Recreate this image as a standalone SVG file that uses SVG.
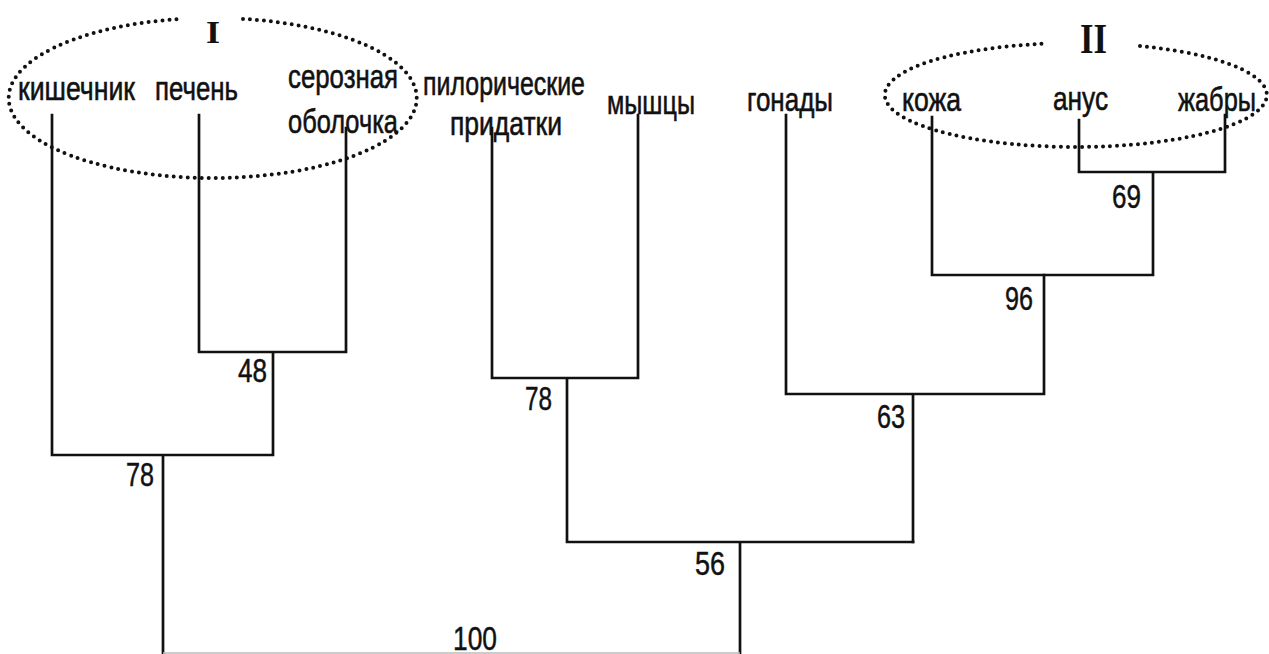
<svg xmlns="http://www.w3.org/2000/svg" width="1269" height="654" viewBox="0 0 1269 654">
<style>
.lbl{font-family:"Liberation Sans",Arial,sans-serif;font-size:34px;fill:#111;stroke:#111;stroke-width:0.6;}
.num{font-family:"Liberation Sans",Arial,sans-serif;font-size:34px;fill:#111;stroke:#111;stroke-width:0.5;}
.rom{font-family:"Liberation Serif","Times New Roman",serif;font-weight:bold;fill:#111;}
.ln{fill:none;stroke:#111;stroke-width:2.7;stroke-linecap:square;}
.dot{fill:none;stroke:#111;stroke-width:4;stroke-linecap:round;stroke-dasharray:0 7;}
</style>
<rect width="1269" height="654" fill="#fff"/>
<g id="connectors">
<path class="ln" d="M52 115V455M199 115V352M346 128V352M199 352H346M273 352V455M52 455H273M163 455V654"/>
<path class="ln" d="M492 128V378M638 115V378M492 378H638M567 378V542M567 542H913M740 542V654"/>
<path class="ln" d="M786 115V394M786 394H1044M913 394V542M1044 275V394"/>
<path class="ln" d="M932 117V275M932 275H1153M1153 172V275M1079 120V172M1225 115V172M1079 172H1225"/>
<path d="M163 653H740" stroke="#bbb" stroke-width="1.5" fill="none"/>
</g>
<g id="cluster-I">
<path class="dot" d="M243 18.9A204 80 0 1 1 180 19.05"/>
<text class="rom" x="206" y="43" font-size="32" textLength="14" lengthAdjust="spacingAndGlyphs">I</text>
</g>
<g id="cluster-II">
<path class="dot" d="M1140 46A191 52 0 1 1 1042 43.8"/>
<text class="rom" x="1080" y="53" font-size="42" textLength="27" lengthAdjust="spacingAndGlyphs">II</text>
</g>
<g id="leaf-kishechnik"><text class="lbl" x="18" y="100" textLength="117" lengthAdjust="spacingAndGlyphs">кишечник</text></g>
<g id="leaf-pechen"><text class="lbl" x="155" y="100" textLength="83" lengthAdjust="spacingAndGlyphs">печень</text></g>
<g id="leaf-seroznaya"><text class="lbl" x="288" y="88" textLength="110" lengthAdjust="spacingAndGlyphs">серозная</text><text class="lbl" x="288" y="133" textLength="110" lengthAdjust="spacingAndGlyphs">оболочка</text></g>
<g id="leaf-piloricheskie"><text class="lbl" x="423" y="95" textLength="162" lengthAdjust="spacingAndGlyphs">пилорические</text><text class="lbl" x="450" y="135" textLength="112" lengthAdjust="spacingAndGlyphs">придатки</text></g>
<g id="leaf-myshcy"><text class="lbl" x="607" y="114" textLength="88" lengthAdjust="spacingAndGlyphs">мышцы</text></g>
<g id="leaf-gonady"><text class="lbl" x="747" y="111" textLength="86" lengthAdjust="spacingAndGlyphs">гонады</text></g>
<g id="leaf-kozha"><text class="lbl" x="902" y="111" textLength="59" lengthAdjust="spacingAndGlyphs">кожа</text></g>
<g id="leaf-anus"><text class="lbl" x="1053" y="110" textLength="55" lengthAdjust="spacingAndGlyphs">анус</text></g>
<g id="leaf-zhabry"><text class="lbl" x="1178" y="111" textLength="78" lengthAdjust="spacingAndGlyphs">жабры</text></g>
<g id="node-48"><text class="num" x="238" y="382" textLength="29" lengthAdjust="spacingAndGlyphs">48</text></g>
<g id="node-78a"><text class="num" x="126" y="486" textLength="28" lengthAdjust="spacingAndGlyphs">78</text></g>
<g id="node-78b"><text class="num" x="525" y="410" textLength="27" lengthAdjust="spacingAndGlyphs">78</text></g>
<g id="node-63"><text class="num" x="877" y="428" textLength="28" lengthAdjust="spacingAndGlyphs">63</text></g>
<g id="node-56"><text class="num" x="695" y="575" textLength="30" lengthAdjust="spacingAndGlyphs">56</text></g>
<g id="node-69"><text class="num" x="1112" y="208" textLength="29" lengthAdjust="spacingAndGlyphs">69</text></g>
<g id="node-96"><text class="num" x="1005" y="310" textLength="28" lengthAdjust="spacingAndGlyphs">96</text></g>
<g id="node-100"><text class="num" x="453" y="650" textLength="44" lengthAdjust="spacingAndGlyphs">100</text></g>
</svg>
